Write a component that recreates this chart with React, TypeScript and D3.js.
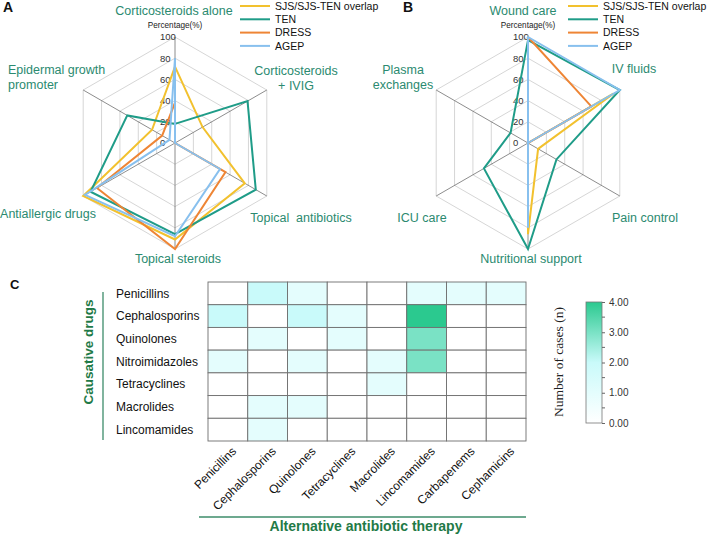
import React, { useEffect, useRef } from "react";
import * as d3 from "d3";

// series shared by both radar panels
const seriesNames = ["SJS/SJS-TEN overlap", "TEN", "DRESS", "AGEP"];
const seriesColors = ["#f2c12e", "#1f9c88", "#ee8535", "#88c0ee"];

// panel A - treatment
const axesA = [
  ["Corticosteroids alone"],
  ["Corticosteroids", "+ IVIG"],
  ["Topical\u00a0 antibiotics"],
  ["Topical steroids"],
  ["Antiallergic drugs"],
  ["Epidermal growth", "promoter"],
];
const sjsA = [72, 30, 76, 91, 100, 25];
const tenA = [18, 79, 88, 86, 92, 52];
const dressA = [38, 0, 55, 100, 85, 14];
const agepA = [80, 0, 49, 88, 98, 6];

// panel B - supportive care
const axesB = [
  ["Wound care"],
  ["IV fluids"],
  ["Pain control"],
  ["Nutritional support"],
  ["ICU care"],
  ["Plasma", "exchanges"],
];
const sjsB = [0, 93, 11, 86, 0, 0];
const tenB = [97, 100, 31, 100, 48, 19];
const dressB = [100, 69, 0, 0, 0, 0];
const agepB = [100, 100, 0, 80, 0, 0];

const radarTicks = [0, 20, 40, 60, 80, 100];

// panel C - heatmap
const causativeDrugs = [
  "Penicillins",
  "Cephalosporins",
  "Quinolones",
  "Nitroimidazoles",
  "Tetracyclines",
  "Macrolides",
  "Lincomamides",
];
const alternativeDrugs = [
  "Penicillins",
  "Cephalosporins",
  "Quinolones",
  "Tetracyclines",
  "Macrolides",
  "Lincomamides",
  "Carbapenems",
  "Cephamicins",
];
const caseCounts = [
  [0, 2, 1, 0, 0, 1, 1, 1],
  [2, 0, 2, 1, 0, 4, 0, 0],
  [0, 1, 0, 1, 0, 3, 0, 0],
  [1, 0, 1, 0, 1, 3, 0, 0],
  [0, 0, 0, 0, 1, 0, 0, 0],
  [0, 1, 1, 0, 0, 0, 0, 0],
  [0, 1, 0, 0, 0, 0, 0, 0],
];
const colorTicks = [0, 1, 2, 3, 4];

const FONT = "Arial, 'Liberation Sans', Helvetica, sans-serif";
const LABEL_GREEN = "#2b8a70";
const TITLE_GREEN = "#1f7a47";

interface LabelPos {
  dx: number;
  dy: number;
  anchor: string;
}

const labelPosA: LabelPos[] = [
  { dx: -1, dy: -128, anchor: "middle" },
  { dx: 121, dy: -68, anchor: "middle" },
  { dx: 126, dy: 79, anchor: "middle" },
  { dx: 3, dy: 120, anchor: "middle" },
  { dx: -127, dy: 75, anchor: "middle" },
  { dx: -167, dy: -69, anchor: "start" },
];
const labelPosB: LabelPos[] = [
  { dx: -5, dy: -128, anchor: "middle" },
  { dx: 106, dy: -70, anchor: "middle" },
  { dx: 117, dy: 79, anchor: "middle" },
  { dx: 3, dy: 120, anchor: "middle" },
  { dx: -106, dy: 79, anchor: "middle" },
  { dx: -125, dy: -69, anchor: "middle" },
];

interface RadarProps {
  cx: number;
  cy: number;
  axes: string[][];
  series: number[][];
  labelPos: LabelPos[];
  legendX: number;
}

const Radar: React.FC<RadarProps> = ({ cx, cy, axes, series, labelPos, legendX }) => {
  const r = d3.scaleLinear().domain([0, 100]).range([0, 106]);
  const n = axes.length;
  const angle = (i: number) => -Math.PI / 2 + (i * 2 * Math.PI) / n;
  const pt = (i: number, v: number): [number, number] => [
    cx + r(v) * Math.cos(angle(i)),
    cy + r(v) * Math.sin(angle(i)),
  ];
  const line = d3.line().curve(d3.curveLinearClosed);

  return (
    <g>
      {/* grid rings */}
      {radarTicks.slice(1).map((t) => (
        <path
          key={t}
          d={line(d3.range(n).map((i) => pt(i, t))) || ""}
          fill="none"
          stroke="#d6d6d6"
          strokeWidth={1}
        />
      ))}
      {/* spokes */}
      {d3.range(n).map((i) => {
        const [x, y] = pt(i, 100);
        return <line key={i} x1={cx} y1={cy} x2={x} y2={y} stroke="#707070" strokeWidth={0.8} />;
      })}
      {/* tick labels */}
      {radarTicks.map((t) => (
        <text
          key={t}
          x={cx - 15}
          y={cy - r(t)}
          dy="0.35em"
          fontSize={9.5}
          fill="#333"
          fontFamily={FONT}
        >
          {t}
        </text>
      ))}
      <text x={cx} y={cy - 115} textAnchor="middle" fontSize={8.2} fill="#222" fontFamily={FONT}>
        Percentage(%)
      </text>
      {/* series */}
      {series.map((s, k) => (
        <path
          key={k}
          d={line(s.map((v, i) => pt(i, v))) || ""}
          fill="none"
          stroke={seriesColors[k]}
          strokeWidth={2}
          strokeLinejoin="miter"
        />
      ))}
      {/* axis labels */}
      {axes.map((lines, i) => (
        <text
          key={i}
          x={cx + labelPos[i].dx}
          y={cy + labelPos[i].dy}
          textAnchor={labelPos[i].anchor}
          fontSize={12.5}
          fill={LABEL_GREEN}
          fontFamily={FONT}
        >
          {lines.map((l, j) => (
            <tspan key={j} x={cx + labelPos[i].dx} dy={j === 0 ? 0 : 15}>
              {l}
            </tspan>
          ))}
        </text>
      ))}
      {/* legend */}
      {seriesNames.map((name, k) => {
        const y = 6 + k * 13.3;
        return (
          <g key={name}>
            <line x1={legendX} x2={legendX + 30} y1={y} y2={y} stroke={seriesColors[k]} strokeWidth={2} />
            <text x={legendX + 35} y={y} dy="0.35em" fontSize={10.5} fill="#111" fontFamily={FONT}>
              {name}
            </text>
          </g>
        );
      })}
    </g>
  );
};

const Heatmap: React.FC = () => {
  const axisRef = useRef<SVGGElement | null>(null);
  const x = d3.scaleBand<string>().domain(alternativeDrugs).range([208, 526]);
  const y = d3.scaleBand<string>().domain(causativeDrugs).range([282, 441]);
  const color = d3
    .scaleLinear<string>()
    .domain([0, 2, 4])
    .range(["#ffffff", "#c9fafa", "#2bc98f"]);
  const barScale = d3.scaleLinear().domain([0, 4]).range([423, 302]);

  useEffect(() => {
    if (!axisRef.current) return;
    const g = d3.select(axisRef.current);
    g.selectAll("*").remove();
    g.call(
      d3
        .axisRight(barScale)
        .tickValues(colorTicks)
        .tickSize(3)
        .tickPadding(4)
        .tickFormat((d) => d3.format(".2f")(d as number))
    );
    g.append("g")
      .selectAll("line")
      .data(d3.range(0.5, 4, 1))
      .enter()
      .append("line")
      .attr("x1", 0)
      .attr("x2", 3)
      .attr("y1", (d) => barScale(d))
      .attr("y2", (d) => barScale(d))
      .attr("stroke", "#666");
    g.select(".domain").remove();
    g.selectAll(".tick line").attr("stroke", "#666");
    g.selectAll(".tick text")
      .attr("font-size", 10)
      .attr("font-family", FONT)
      .attr("fill", "#333");
  }, []);

  return (
    <g>
      {caseCounts.map((row, i) =>
        row.map((v, j) => (
          <rect
            key={`${i}-${j}`}
            x={x(alternativeDrugs[j])}
            y={y(causativeDrugs[i])}
            width={x.bandwidth()}
            height={y.bandwidth()}
            fill={color(v)}
            stroke="#6e6e6e"
            strokeWidth={0.9}
          />
        ))
      )}
      {causativeDrugs.map((d) => (
        <text
          key={d}
          x={116}
          y={(y(d) || 0) + y.bandwidth() / 2}
          dy="0.35em"
          fontSize={12}
          fill="#111"
          fontFamily={FONT}
        >
          {d}
        </text>
      ))}
      {alternativeDrugs.map((d) => (
        <text
          key={d}
          transform={`translate(${(x(d) || 0) + x.bandwidth() / 2 + 9},${452}) rotate(-45)`}
          textAnchor="end"
          fontSize={12}
          fill="#111"
          fontFamily={FONT}
        >
          {d}
        </text>
      ))}
      <line x1={103} x2={103} y1={292} y2={440} stroke="#3d8c6a" strokeWidth={1.3} />
      <text
        transform="translate(93,352) rotate(-90)"
        textAnchor="middle"
        fontSize={13.5}
        fontWeight="bold"
        fill={TITLE_GREEN}
        fontFamily={FONT}
      >
        Causative drugs
      </text>
      <line x1={199} x2={526} y1={517} y2={517} stroke="#3d8c6a" strokeWidth={1.3} />
      <text
        x={366}
        y={531}
        textAnchor="middle"
        fontSize={14}
        fontWeight="bold"
        fill={TITLE_GREEN}
        fontFamily={FONT}
      >
        Alternative antibiotic therapy
      </text>
      {/* colour bar */}
      <defs>
        <linearGradient id="cbar" x1="0" y1="1" x2="0" y2="0">
          {colorTicks.map((t) => (
            <stop key={t} offset={t / 4} stopColor={color(t)} />
          ))}
        </linearGradient>
      </defs>
      <rect x={586} y={302} width={16} height={121} fill="url(#cbar)" stroke="#777" strokeWidth={0.8} />
      <g ref={axisRef} transform="translate(602,0)" />
      <text
        transform="translate(563,362) rotate(-90)"
        textAnchor="middle"
        fontSize={13.5}
        fill="#222"
        fontFamily="'Times New Roman', 'Liberation Serif', serif"
      >
        Number of cases (n)
      </text>
    </g>
  );
};

const App: React.FC = () => {
  return (
    <svg
      width={708}
      height={534}
      style={{ position: "absolute", left: 0, top: 0, background: "#fff" }}
    >
      <text x={3} y={12} fontSize={14} fontWeight="bold" fontFamily={FONT} fill="#111">
        A
      </text>
      <text x={403} y={12} fontSize={14} fontWeight="bold" fontFamily={FONT} fill="#111">
        B
      </text>
      <text x={10} y={289} fontSize={13} fontWeight="bold" fontFamily={FONT} fill="#111">
        C
      </text>
      <Radar
        cx={175}
        cy={143}
        axes={axesA}
        series={[sjsA, tenA, dressA, agepA]}
        labelPos={labelPosA}
        legendX={240}
      />
      <Radar
        cx={528}
        cy={143}
        axes={axesB}
        series={[sjsB, tenB, dressB, agepB]}
        labelPos={labelPosB}
        legendX={568}
      />
      <Heatmap />
    </svg>
  );
};

export default App;
